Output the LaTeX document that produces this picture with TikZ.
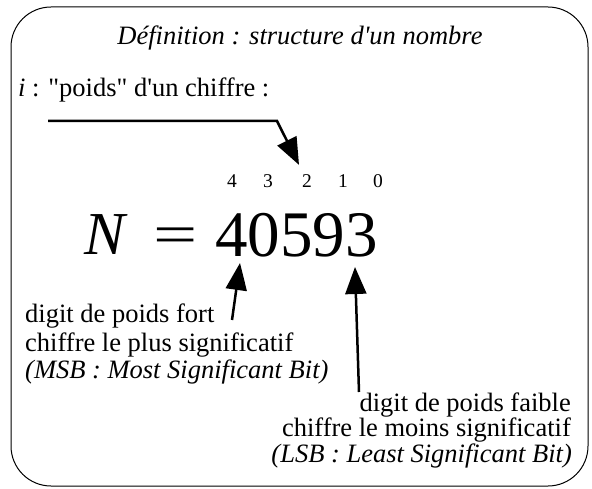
\documentclass[tikz,border=0pt]{standalone}
\usepackage{fontspec}
\setmainfont{Liberation Serif}[Ligatures=TeXOff]
\usetikzlibrary{arrows.meta}

\begin{document}
\begin{tikzpicture}[x=1pt, y=-1pt,
        txt/.style={inner sep=0pt, font=\fontsize{26.5}{26.5}\selectfont},
        weight/.style={inner sep=0pt, anchor=base, font=\fontsize{19.5}{19.5}\selectfont},
        big/.style={inner sep=0pt, anchor=base west},
        arrow/.style={-{Triangle[length=27pt, width=21pt]}, line width=2.5pt}
    ]
        \useasboundingbox (0,0) rectangle (592,489);

        % Frame
        \draw[line width=1pt, rounded corners=40pt] (11,7) rectangle (588,486);

        % Title
        \node (title) [txt, anchor=base] at (300,45) {\itshape Définition : structure d'un nombre};

        % Weight label
        \node (poids) [txt, anchor=base west] at (18,97) {\textit{i} : "poids" d'un chiffre :};
        \coordinate (ulstart) at (48,121);
        \coordinate (ulbend) at (277,121);

        % Weights
        \node (w4) [weight] at (232,188) {4};
        \node (w3) [weight] at (268,188) {3};
        \node (w2) [weight] at (307,188) {2};
        \node (w1) [weight] at (343,188) {1};
        \node (w0) [weight] at (378,188) {0};

        % Number
        \node (N) [big, font=\fontsize{61}{61}\selectfont\itshape] at (84,255) {N};
        \node (eq) [big, font=\fontsize{56}{56}\selectfont] at (153,253.5) {\scalebox{1.4}[1]{=}};
        \node (num) [big, font=\fontsize{65}{65}\selectfont] at (215,257) {40593};

        % MSB
        \node (msb1) [txt, anchor=base west] at (25,323) {digit de poids fort};
        \node (msb2) [txt, anchor=base west] at (25,351) {chiffre le plus significatif};
        \node (msb3) [txt, anchor=base west] at (25,378) {\itshape (MSB : Most Significant Bit)};
        \coordinate (msbfoot) at (232,320);
        \coordinate (msbtip) at (240,263);

        % LSB
        \node (lsb1) [txt, anchor=base east] at (571,411) {digit de poids faible};
        \node (lsb2) [txt, anchor=base east] at (571,436) {chiffre le moins significatif};
        \node (lsb3) [txt, anchor=base east] at (572,462) {\itshape (LSB : Least Significant Bit)};
        \coordinate (lsbfoot) at (359,392);
        \coordinate (lsbtip) at (355,267);

        % Arrows
        \draw[arrow] (ulstart) -- (ulbend) -- ([xshift=-8pt, yshift=10pt]w2.north);
        \draw[arrow] (msbfoot) -- (msbtip);
        \draw[arrow] (lsbfoot) -- (lsbtip);

    \end{tikzpicture}
\end{document}
